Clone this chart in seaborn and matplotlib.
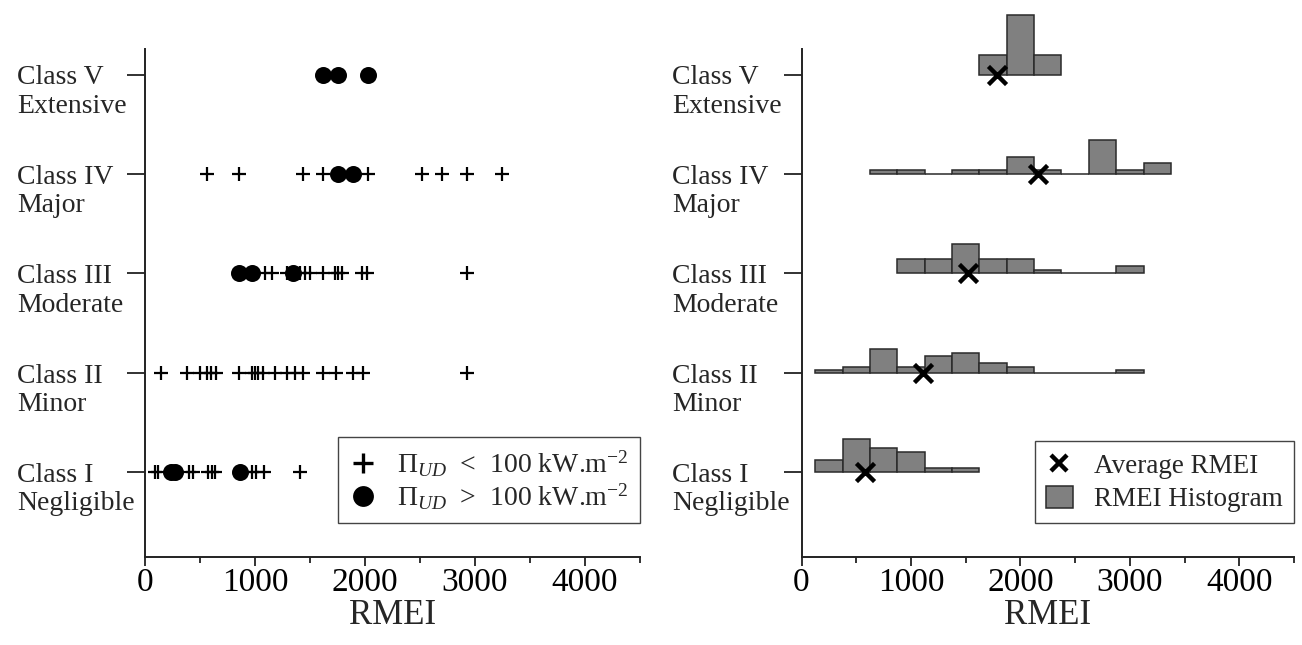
import numpy as np
import pandas as pd
import matplotlib
matplotlib.use("Agg")
import matplotlib.pyplot as plt
import matplotlib.transforms as mtransforms
from matplotlib.lines import Line2D
from matplotlib.patches import Patch
import seaborn as sns

# ---------------- data ----------------
class_labels = ["Class I\nNegligible", "Class II\nMinor", "Class III\nModerate",
                "Class IV\nMajor", "Class V\nExtensive"]
class_levels = [0, 1, 2, 3, 4]

# left panel: RMEI of events, split by Pi_UD
low_I = [89, 119, 401, 432, 574, 605, 640, 968, 1010, 1080, 1407]
high_I = [240, 275, 862]
low_II = [141, 377, 498, 559, 598, 644, 855, 968, 998, 1028, 1068, 1180, 1286,
          1362, 1437, 1614, 1735, 1892, 1983, 2923]
high_II = []
low_III = [1089, 1150, 1286, 1407, 1453, 1498, 1614, 1725, 1755, 1786, 1968, 2014, 2923]
high_III = [855, 968, 1346]
low_IV = [559, 855, 1432, 1614, 2028, 2514, 2695, 2923, 3241]
high_IV = [1755, 1892]
low_V = []
high_V = [1619, 1756, 2028]

low_by_class = [low_I, low_II, low_III, low_IV, low_V]
high_by_class = [high_I, high_II, high_III, high_IV, high_V]

# right panel: histogram fractions (bin width 250) and average RMEI
bin_width = 250
hist_start = [125, 125, 875, 625, 1625]
hist_I = [0.124, 0.335, 0.245, 0.208, 0.045, 0.045]
hist_II = [0.027, 0.062, 0.236, 0.062, 0.165, 0.200, 0.100, 0.062, 0, 0, 0, 0.025]
hist_III = [0.145, 0.145, 0.297, 0.145, 0.145, 0.037, 0, 0, 0.074]
hist_IV = [0.045, 0.045, 0, 0.045, 0.045, 0.172, 0.045, 0, 0.343, 0.045, 0.110]
hist_V = [0.2, 0.6, 0.2]
hist_by_class = [hist_I, hist_II, hist_III, hist_IV, hist_V]
avg_rmei = [580, 1112, 1523, 2163, 1783]

legend_left = [r"$\Pi_{UD}$  <  100 kW.m$^{-2}$",
               r"$\Pi_{UD}$  >  100 kW.m$^{-2}$"]
legend_right = ["Average RMEI", "RMEI Histogram"]

# ---------------- tables ----------------
rows = []
for lvl, lo, hi in zip(class_levels, low_by_class, high_by_class):
    rows += [{"RMEI": v, "level": lvl, "grp": "low"} for v in lo]
    rows += [{"RMEI": v, "level": lvl, "grp": "high"} for v in hi]
df = pd.DataFrame(rows)
df_avg = pd.DataFrame({"RMEI": avg_rmei, "level": class_levels})

# ---------------- style ----------------
sns.set_theme(style="ticks")
plt.rcParams["font.family"] = ["Liberation Serif", "DejaVu Serif"]
plt.rcParams["mathtext.fontset"] = "custom"
plt.rcParams["mathtext.rm"] = "Liberation Serif"
plt.rcParams["mathtext.it"] = "Liberation Serif:italic"
plt.rcParams["mathtext.bf"] = "Liberation Serif:bold"
plt.rcParams["axes.linewidth"] = 1.4
plt.rcParams["axes.edgecolor"] = "#222222"

fig = plt.figure(figsize=(13.02, 6.45), dpi=100)
axL = fig.add_axes([0.1114, 0.1364, 0.3802, 0.7876])
axR = fig.add_axes([0.6156, 0.1364, 0.3783, 0.7876])

# left panel
sns.scatterplot(data=df[df.grp == "low"], x="RMEI", y="level", marker="+",
                s=95, color="black", linewidth=1.6, ax=axL, legend=False, zorder=3)
sns.scatterplot(data=df[df.grp == "high"], x="RMEI", y="level", marker="o",
                s=150, color="black", linewidth=0, ax=axL, legend=False, zorder=4)

# right panel: histograms on each class baseline
for lvl, start, h in zip(class_levels, hist_start, hist_by_class):
    centers = start + bin_width * (np.arange(len(h)) + 0.5)
    axR.bar(centers, h, width=bin_width, bottom=lvl, color="#808080",
            edgecolor="#2a2a2a", linewidth=1.1, clip_on=False, zorder=2)
sns.scatterplot(data=df_avg, x="RMEI", y="level", marker="x", s=170,
                color="black", linewidth=3.2, ax=axR, legend=False, zorder=5,
                clip_on=False)

for ax, xoff in ((axL, -0.2586), (axR, -0.263)):
    ax.set_xlim(0, 4500)
    ax.set_ylim(-0.853, 4.257)
    ax.set_yticks(class_levels)
    ax.set_yticklabels([])
    ax.set_xticks([0, 1000, 2000, 3000, 4000])
    ax.set_xticks([500, 1500, 2500, 3500, 4500], minor=True)
    ax.tick_params(axis="x", which="major", length=6.5, width=1.3, pad=1,
                   labelsize=24, colors="#222222", labelcolor="black")
    ax.tick_params(axis="x", which="minor", length=4, width=1.3, colors="#222222")
    ax.tick_params(axis="y", which="major", length=13, width=1.3, colors="#222222")
    ax.set_xlabel("RMEI", fontsize=25, labelpad=1)
    ax.set_ylabel("")
    sns.despine(ax=ax)
    trans = mtransforms.blended_transform_factory(ax.transAxes, ax.transData)
    for lvl, lab in zip(class_levels, class_labels):
        ax.text(xoff, lvl - 0.13, lab, transform=trans, ha="left",
                va="center_baseline", fontsize=20, linespacing=1.17)

# legends
hL = [Line2D([], [], marker="+", color="black", linestyle="none", markersize=15,
             markeredgewidth=2.4),
      Line2D([], [], marker="o", color="black", linestyle="none", markersize=15,
             markeredgewidth=0)]
legL = axL.legend(hL, legend_left, loc="lower right", bbox_to_anchor=(1.0, 0.067),
                  borderaxespad=0, fontsize=20, frameon=True, fancybox=False,
                  edgecolor="#444444", framealpha=1, handlelength=1.0,
                  handletextpad=0.74, borderpad=0.4, labelspacing=0.1)
legL.get_frame().set_linewidth(1.0)

hR = [Line2D([], [], marker="x", color="black", linestyle="none", markersize=12,
             markeredgewidth=3.2),
      Patch(facecolor="#808080", edgecolor="#2a2a2a", linewidth=1.1)]
legR = axR.legend(hR, legend_right, loc="lower right", bbox_to_anchor=(1.0, 0.067),
                  borderaxespad=0, fontsize=19.5, frameon=True, fancybox=False,
                  edgecolor="#444444", framealpha=1, handlelength=1.0,
                  handleheight=0.9, handletextpad=0.8, borderpad=0.4,
                  labelspacing=0.25)
legR.get_frame().set_linewidth(1.0)

fig.savefig("out.png", dpi=100)
